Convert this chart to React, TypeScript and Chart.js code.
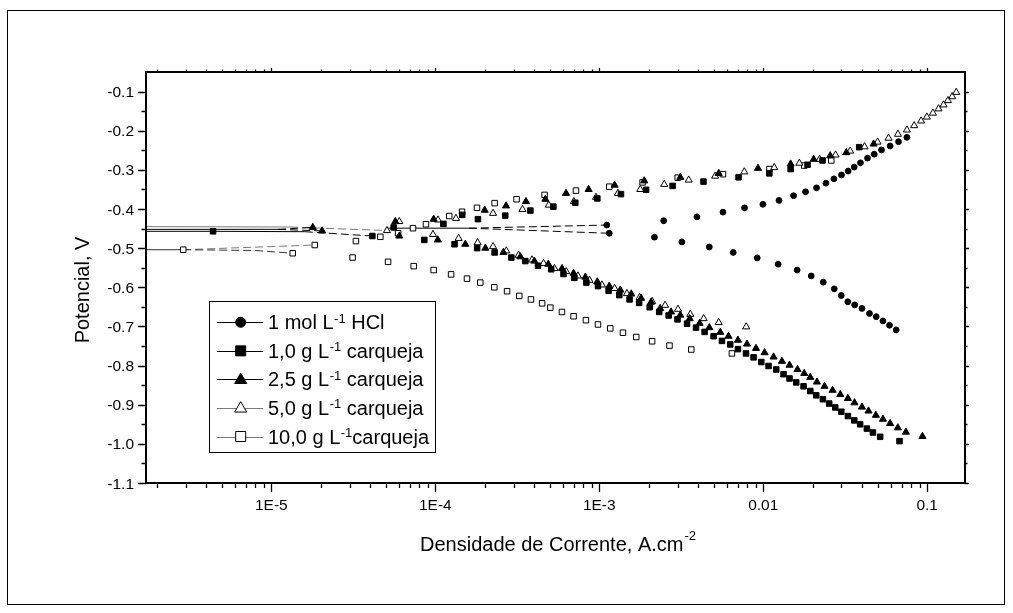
import React, { useEffect, useRef } from 'react';
import { Chart, registerables } from 'chart.js';

Chart.register(...registerables);

// ---------- axes ----------
const X_MIN = 1.72e-6;
const X_MAX = 0.17;
const Y_MIN = -1.1;
const Y_MAX = -0.05;
const xTickValues = [1e-5, 1e-4, 1e-3, 0.01, 0.1];
const xTickLabels = ['1E-5', '1E-4', '1E-3', '0.01', '0.1'];
const yTickValues = [-0.1, -0.2, -0.3, -0.4, -0.5, -0.6, -0.7, -0.8, -0.9, -1.0, -1.1];
const yTickLabels = ['-0.1', '-0.2', '-0.3', '-0.4', '-0.5', '-0.6', '-0.7', '-0.8', '-0.9', '-1.0', '-1.1'];
const xTitle = 'Densidade de Corrente, A.cm';
const xTitleSup = '-2';
const yTitle = 'Potencial, V';

// ---------- legend ----------
const legendParts: string[][] = [
  ['1 mol L', '-1', ' HCl'],
  ['1,0 g L', '-1', ' carqueja'],
  ['2,5 g L', '-1', ' carqueja'],
  ['5,0 g L', '-1', ' carqueja'],
  ['10,0 g L', '-1', 'carqueja'],
];

// ---------- 1 mol L-1 HCl (filled circles) ----------
const hclAnodicI = [1.11e-3, 2.47e-3, 3.94e-3, 5.68e-3, 7.69e-3, 9.95e-3, 0.01247, 0.01531, 0.01811, 0.02113, 0.02411, 0.02698, 0.030, 0.03296, 0.03589, 0.03917, 0.04325, 0.04753, 0.05263, 0.05943, 0.06683, 0.07516];
const hclAnodicE = [-0.441, -0.430, -0.420, -0.408, -0.397, -0.388, -0.378, -0.366, -0.356, -0.346, -0.334, -0.323, -0.313, -0.303, -0.293, -0.282, -0.270, -0.260, -0.249, -0.239, -0.228, -0.217];
const hclCathodicI = [1.15e-3, 2.17e-3, 3.19e-3, 4.69e-3, 6.56e-3, 9.19e-3, 0.01233, 0.0161, 0.01963, 0.02323, 0.0271, 0.0299, 0.0328, 0.0361, 0.040, 0.04446, 0.04887, 0.0537, 0.05888, 0.06471];
const hclCathodicE = [-0.462, -0.472, -0.484, -0.497, -0.511, -0.525, -0.541, -0.556, -0.571, -0.587, -0.604, -0.621, -0.637, -0.645, -0.654, -0.667, -0.675, -0.686, -0.697, -0.709];
const hclLineI = [5.0e-5, 1.6e-4, 1.11e-3];
const hclLineE = [-0.449, -0.449, -0.441];
const hclLine2I = [1.6e-4, 1.15e-3];
const hclLine2E = [-0.449, -0.462];

// ---------- 1,0 g L-1 carqueja (filled squares) ----------
const c10AnodicI = [4.41e-6, 5.57e-5, 1.12e-4, 1.46e-4, 1.82e-4, 2.67e-4, 3.80e-4, 5.25e-4, 7.14e-4, 9.73e-4, 1.356e-3, 1.93e-3, 2.80e-3, 4.32e-3, 7.07e-3, 0.01089, 0.01469, 0.01862, 0.0230, 0.03846];
const c10AnodicE = [-0.457, -0.447, -0.438, -0.415, -0.426, -0.417, -0.404, -0.394, -0.384, -0.373, -0.362, -0.351, -0.341, -0.330, -0.319, -0.309, -0.298, -0.287, -0.276, -0.242];
const c10CathodicI = [4.13e-5, 8.57e-5, 1.31e-4, 1.80e-4, 2.30e-4, 2.91e-4, 3.54e-4, 4.23e-4, 5.09e-4, 6.05e-4, 7.05e-4, 8.34e-4, 9.82e-4, 1.14e-3, 1.325e-3, 1.53e-3, 1.75e-3, 2.03e-3, 2.32e-3, 2.65e-3, 3.0e-3, 3.43e-3, 3.89e-3, 4.39e-3, 4.98e-3, 5.60e-3, 6.29e-3, 7.01e-3, 7.85e-3, 8.73e-3, 9.73e-3, 0.01077, 0.012, 0.0133, 0.01446, 0.01589, 0.01762, 0.01936, 0.02104, 0.02312, 0.02524, 0.02748, 0.02992, 0.03283, 0.03589, 0.039, 0.04285, 0.04664, 0.05164, 0.06776];
const c10CathodicE = [-0.469, -0.479, -0.490, -0.500, -0.511, -0.524, -0.533, -0.545, -0.554, -0.566, -0.576, -0.588, -0.597, -0.609, -0.620, -0.631, -0.640, -0.651, -0.663, -0.672, -0.682, -0.693, -0.703, -0.714, -0.725, -0.737, -0.746, -0.758, -0.769, -0.779, -0.791, -0.801, -0.810, -0.822, -0.833, -0.843, -0.853, -0.865, -0.876, -0.886, -0.897, -0.907, -0.918, -0.929, -0.940, -0.950, -0.961, -0.971, -0.982, -0.993];
const c10LineI = [1.72e-6, 4.41e-6, 1.6e-5, 4.13e-5];
const c10LineE = [-0.457, -0.457, -0.458, -0.469];

// ---------- 2,5 g L-1 carqueja (filled triangles) ----------
const c25AnodicI = [1.79e-5, 5.70e-5, 9.77e-5, 2.00e-4, 2.70e-4, 3.57e-4, 4.69e-4, 6.27e-4, 8.61e-4, 1.24e-3, 1.88e-3, 3.12e-3, 5.35e-3, 9.29e-3, 0.01469, 0.0203, 0.0256, 0.0321, 0.0471];
const c25AnodicE = [-0.447, -0.432, -0.426, -0.403, -0.392, -0.381, -0.375, -0.360, -0.350, -0.339, -0.328, -0.319, -0.309, -0.296, -0.285, -0.273, -0.264, -0.256, -0.234];
const c25CathodicI = [2.04e-5, 6.03e-5, 1.035e-4, 1.524e-4, 2.02e-4, 2.60e-4, 3.30e-4, 4.02e-4, 4.89e-4, 5.93e-4, 6.97e-4, 8.22e-4, 9.73e-4, 1.151e-3, 1.343e-3, 1.567e-3, 1.80e-3, 2.07e-3, 2.35e-3, 2.74e-3, 3.12e-3, 3.56e-3, 4.09e-3, 4.69e-3, 5.47e-3, 6.14e-3, 7.01e-3, 7.96e-3, 9.03e-3, 0.01019, 0.01156, 0.013, 0.01446, 0.01618, 0.01778, 0.01936, 0.02125, 0.02364, 0.02648, 0.02951, 0.03283, 0.03601, 0.040, 0.04385, 0.04864, 0.0537, 0.0594, 0.0662, 0.0741, 0.0935];
const c25CathodicE = [-0.456, -0.469, -0.479, -0.490, -0.500, -0.511, -0.522, -0.533, -0.541, -0.552, -0.564, -0.574, -0.586, -0.597, -0.607, -0.617, -0.628, -0.638, -0.654, -0.663, -0.671, -0.680, -0.692, -0.703, -0.715, -0.725, -0.735, -0.745, -0.756, -0.767, -0.778, -0.789, -0.799, -0.810, -0.820, -0.830, -0.842, -0.853, -0.863, -0.874, -0.884, -0.895, -0.906, -0.916, -0.927, -0.937, -0.948, -0.959, -0.970, -0.981];
const c25LineI = [1.72e-6, 1.1e-5, 2.04e-5];
const c25LineE = [-0.452, -0.452, -0.456];
const c25Line2I = [1.1e-5, 1.79e-5];
const c25Line2E = [-0.452, -0.447];

// ---------- 5,0 g L-1 carqueja (open triangles) ----------
const c50AnodicI = [6.03e-5, 1.038e-4, 1.336e-4, 2.25e-4, 3.40e-4, 4.92e-4, 7.00e-4, 9.55e-4, 1.30e-3, 1.778e-3, 2.49e-3, 3.51e-3, 5.09e-3, 7.66e-3, 0.01167, 0.0166, 0.02205, 0.0276, 0.0339, 0.0415, 0.0498, 0.0581, 0.0663, 0.0752, 0.0833, 0.0918, 0.0995, 0.1083, 0.1172, 0.1257, 0.1337, 0.142, 0.1503];
const c50AnodicE = [-0.432, -0.428, -0.424, -0.411, -0.401, -0.390, -0.381, -0.370, -0.360, -0.350, -0.337, -0.326, -0.316, -0.305, -0.294, -0.283, -0.273, -0.262, -0.252, -0.241, -0.229, -0.219, -0.209, -0.198, -0.187, -0.175, -0.165, -0.155, -0.144, -0.134, -0.123, -0.113, -0.102];
const c50CathodicI = [5.07e-5, 9.68e-5, 1.387e-4, 1.81e-4, 2.25e-4, 2.71e-4, 3.22e-4, 3.89e-4, 4.57e-4, 5.33e-4, 6.29e-4, 7.41e-4, 8.72e-4, 1.038e-3, 1.24e-3, 1.475e-3, 1.762e-3, 2.10e-3, 2.52e-3, 3.02e-3, 3.59e-3, 4.33e-3, 5.35e-3, 7.87e-3];
const c50CathodicE = [-0.455, -0.465, -0.475, -0.486, -0.496, -0.507, -0.518, -0.530, -0.539, -0.552, -0.560, -0.571, -0.582, -0.594, -0.603, -0.616, -0.626, -0.636, -0.646, -0.656, -0.669, -0.680, -0.690, -0.701];
const c50LineI = [1.72e-6, 1.3e-5, 5.07e-5];
const c50LineE = [-0.445, -0.446, -0.455];

// ---------- 10,0 g L-1 carqueja (open squares) ----------
const c100AnodicI = [1.84e-5, 3.28e-5, 4.62e-5, 5.93e-5, 7.31e-5, 8.77e-5, 1.216e-4, 1.455e-4, 1.795e-4, 2.30e-4, 3.13e-4, 4.64e-4, 7.21e-4, 1.151e-3, 1.837e-3, 3.01e-3, 5.68e-3, 0.01091, 0.01778, 0.026];
const c100AnodicE = [-0.492, -0.482, -0.471, -0.462, -0.449, -0.439, -0.418, -0.407, -0.397, -0.385, -0.375, -0.364, -0.353, -0.343, -0.332, -0.320, -0.311, -0.298, -0.289, -0.276];
const c100CathodicI = [2.9e-6, 1.35e-5, 3.13e-5, 5.15e-5, 7.38e-5, 9.77e-5, 1.248e-4, 1.56e-4, 1.88e-4, 2.29e-4, 2.74e-4, 3.25e-4, 3.83e-4, 4.48e-4, 5.03e-4, 5.92e-4, 6.97e-4, 8.29e-4, 9.82e-4, 1.167e-3, 1.394e-3, 1.68e-3, 2.10e-3, 2.68e-3, 3.64e-3, 6.44e-3];
const c100CathodicE = [-0.504, -0.513, -0.524, -0.535, -0.546, -0.556, -0.567, -0.578, -0.588, -0.600, -0.610, -0.622, -0.631, -0.641, -0.652, -0.663, -0.674, -0.684, -0.695, -0.705, -0.716, -0.727, -0.738, -0.749, -0.759, -0.769];
const c100LineI = [1.72e-6, 2.9e-6, 8.0e-6, 1.35e-5];
const c100LineE = [-0.504, -0.504, -0.506, -0.513];
const c100Line2I = [2.9e-6, 1.84e-5];
const c100Line2E = [-0.504, -0.492];

const FONT = '"Liberation Sans", Arial, Helvetica, sans-serif';
const GRAY = '#7a7a7a';

function pts(xs: number[], ys: number[]) {
  const n = Math.min(xs.length, ys.length);
  const out: { x: number; y: number }[] = [];
  for (let i = 0; i < n; i++) out.push({ x: xs[i], y: ys[i] });
  return out;
}

type MarkerStyle = 'circle' | 'rect' | 'triangle';

function markerSet(data: { x: number; y: number }[], style: MarkerStyle, filled: boolean) {
  const r = style === 'circle' ? 2.9 : style === 'rect' ? 3.9 : 4.1;
  return {
    type: 'scatter' as const,
    data,
    showLine: false,
    pointStyle: style,
    pointRadius: r,
    pointHoverRadius: r,
    pointBorderWidth: 1,
    pointBorderColor: '#000',
    pointBackgroundColor: filled ? '#000' : '#fff',
    order: 1,
  };
}

function lineSet(data: { x: number; y: number }[], color: string, solidSegments: number) {
  return {
    type: 'scatter' as const,
    data,
    showLine: true,
    borderColor: color,
    borderWidth: 1,
    pointRadius: 0,
    pointHoverRadius: 0,
    fill: false,
    tension: 0,
    order: 2,
    segment: {
      borderDash: (ctx: any) => (ctx.p0DataIndex < solidSegments ? [] : [8, 4]),
    },
  };
}

function drawMarkerShape(ctx: CanvasRenderingContext2D, style: MarkerStyle, x: number, y: number, s: number, filled: boolean) {
  ctx.save();
  ctx.beginPath();
  if (style === 'circle') {
    ctx.arc(x, y, s, 0, Math.PI * 2);
  } else if (style === 'rect') {
    ctx.rect(x - s, y - s, 2 * s, 2 * s);
  } else {
    ctx.moveTo(x, y - s * 1.15);
    ctx.lineTo(x + s * 1.1, y + s * 0.75);
    ctx.lineTo(x - s * 1.1, y + s * 0.75);
    ctx.closePath();
  }
  ctx.fillStyle = filled ? '#000' : '#fff';
  ctx.fill();
  ctx.lineWidth = 1;
  ctx.strokeStyle = '#000';
  ctx.stroke();
  ctx.restore();
}

const legendMarkers: { style: MarkerStyle; filled: boolean; line: string }[] = [
  { style: 'circle', filled: true, line: '#000' },
  { style: 'rect', filled: true, line: '#000' },
  { style: 'triangle', filled: true, line: '#000' },
  { style: 'triangle', filled: false, line: GRAY },
  { style: 'rect', filled: false, line: GRAY },
];

const decorPlugin = {
  id: 'decor',
  beforeDraw(chart: any) {
    const ctx: CanvasRenderingContext2D = chart.ctx;
    ctx.save();
    ctx.fillStyle = '#fff';
    ctx.fillRect(0, 0, chart.width, chart.height);
    ctx.strokeStyle = '#000';
    ctx.lineWidth = 1;
    ctx.strokeRect(7.5, 10.5, 997, 594);
    ctx.restore();
  },
  afterDraw(chart: any) {
    const ctx: CanvasRenderingContext2D = chart.ctx;
    const ca = chart.chartArea;
    const xs = chart.scales.x;
    const ys = chart.scales.y;
    ctx.save();
    ctx.strokeStyle = '#000';
    ctx.fillStyle = '#000';

    // axis box
    ctx.lineWidth = 2;
    ctx.strokeRect(ca.left, ca.top, ca.right - ca.left, ca.bottom - ca.top);

    // x ticks (bottom outward, top outward small)
    ctx.lineWidth = 1.3;
    ctx.beginPath();
    for (let e = -6; e <= -1; e++) {
      for (let m = 1; m <= 9; m++) {
        const v = m * Math.pow(10, e);
        if (v < X_MIN || v > X_MAX) continue;
        const px = Math.round(xs.getPixelForValue(v)) + 0.5;
        const major = m === 1;
        ctx.moveTo(px, ca.bottom);
        ctx.lineTo(px, ca.bottom + (major ? 9 : 5));
        ctx.moveTo(px, ca.top);
        ctx.lineTo(px, ca.top - (major ? 4 : 2.5));
      }
    }
    // y ticks
    for (let k = 0; k <= 21; k++) {
      const v = -0.1 - k * 0.05;
      if (v < Y_MIN - 1e-9) continue;
      const py = Math.round(ys.getPixelForValue(v)) + 0.5;
      const major = k % 2 === 0;
      ctx.moveTo(ca.left, py);
      ctx.lineTo(ca.left - (major ? 8 : 4.5), py);
      ctx.moveTo(ca.right, py);
      ctx.lineTo(ca.right + (major ? 4 : 2.5), py);
    }
    ctx.stroke();

    // tick labels
    ctx.font = `15.5px ${FONT}`;
    ctx.textAlign = 'center';
    ctx.textBaseline = 'alphabetic';
    xTickValues.forEach((v, i) => {
      ctx.fillText(xTickLabels[i], xs.getPixelForValue(v), ca.bottom + 27);
    });
    ctx.textAlign = 'right';
    yTickValues.forEach((v, i) => {
      ctx.fillText(yTickLabels[i], ca.left - 12, ys.getPixelForValue(v) + 5.5);
    });

    // x title with superscript
    ctx.textAlign = 'left';
    ctx.font = `20px ${FONT}`;
    const tx = 420;
    const ty = 550.5;
    ctx.fillText(xTitle, tx, ty);
    const w = ctx.measureText(xTitle).width;
    ctx.font = `13px ${FONT}`;
    ctx.fillText(xTitleSup, tx + w + 1, ty - 10.5);

    // y title rotated
    ctx.save();
    ctx.translate(89, 290);
    ctx.rotate(-Math.PI / 2);
    ctx.font = `20px ${FONT}`;
    ctx.textAlign = 'center';
    ctx.fillText(yTitle, 0, 0);
    ctx.restore();

    // legend
    ctx.lineWidth = 1;
    ctx.strokeStyle = '#000';
    ctx.strokeRect(209.5, 301.5, 226, 151);
    legendParts.forEach((parts, i) => {
      const cy = 322.3 + i * 28.55;
      const mk = legendMarkers[i];
      ctx.save();
      ctx.strokeStyle = mk.line;
      ctx.lineWidth = 1;
      ctx.beginPath();
      ctx.moveTo(217, Math.round(cy) + 0.5);
      ctx.lineTo(263, Math.round(cy) + 0.5);
      ctx.stroke();
      ctx.restore();
      const s = mk.style === 'circle' ? 5 : mk.style === 'rect' ? 5 : 5.5;
      drawMarkerShape(ctx, mk.style, 240.7, cy, s, mk.filled);
      let x = 268;
      const base = cy + 7;
      ctx.fillStyle = '#000';
      ctx.textAlign = 'left';
      ctx.font = `20px ${FONT}`;
      ctx.fillText(parts[0], x, base);
      x += ctx.measureText(parts[0]).width + 0.5;
      ctx.font = `13px ${FONT}`;
      ctx.fillText(parts[1], x, base - 6.5);
      x += ctx.measureText(parts[1]).width;
      ctx.font = `20px ${FONT}`;
      ctx.fillText(parts[2], x, base);
    });

    ctx.restore();
  },
};

export default function App() {
  const canvasRef = useRef<HTMLCanvasElement | null>(null);

  useEffect(() => {
    const canvas = canvasRef.current;
    if (!canvas) return;
    const datasets: any[] = [
      markerSet(pts(hclAnodicI, hclAnodicE), 'circle', true),
      markerSet(pts(hclCathodicI, hclCathodicE), 'circle', true),
      markerSet(pts(c10AnodicI, c10AnodicE), 'rect', true),
      markerSet(pts(c10CathodicI, c10CathodicE), 'rect', true),
      markerSet(pts(c25AnodicI, c25AnodicE), 'triangle', true),
      markerSet(pts(c25CathodicI, c25CathodicE), 'triangle', true),
      markerSet(pts(c50AnodicI, c50AnodicE), 'triangle', false),
      markerSet(pts(c50CathodicI, c50CathodicE), 'triangle', false),
      markerSet(pts(c100AnodicI, c100AnodicE), 'rect', false),
      markerSet(pts(c100CathodicI, c100CathodicE), 'rect', false),
      lineSet(pts(hclLineI, hclLineE), '#000', 1),
      lineSet(pts(hclLine2I, hclLine2E), '#000', 0),
      lineSet(pts(c10LineI, c10LineE), '#000', 2),
      lineSet(pts(c25LineI, c25LineE), '#000', 1),
      lineSet(pts(c25Line2I, c25Line2E), '#000', 0),
      lineSet(pts(c50LineI, c50LineE), GRAY, 1),
      lineSet(pts(c100LineI, c100LineE), '#333', 1),
      lineSet(pts(c100Line2I, c100Line2E), GRAY, 0),
    ];
    const chart = new Chart(canvas, {
      type: 'scatter',
      data: { datasets },
      options: {
        responsive: false,
        maintainAspectRatio: false,
        animation: false,
        events: [],
        layout: { padding: { left: 146, top: 72, right: 48, bottom: 130 } },
        scales: {
          x: { type: 'logarithmic', display: false, min: X_MIN, max: X_MAX },
          y: { type: 'linear', display: false, min: Y_MIN, max: Y_MAX },
        },
        plugins: {
          legend: { display: false },
          tooltip: { enabled: false },
        },
      },
      plugins: [decorPlugin],
    } as any);
    return () => chart.destroy();
  }, []);

  return (
    <div style={{ position: 'absolute', left: 0, top: 0, width: 1013, height: 613, background: '#fff' }}>
      <canvas ref={canvasRef} width={1013} height={613} style={{ display: 'block', width: 1013, height: 613 }} />
    </div>
  );
}
